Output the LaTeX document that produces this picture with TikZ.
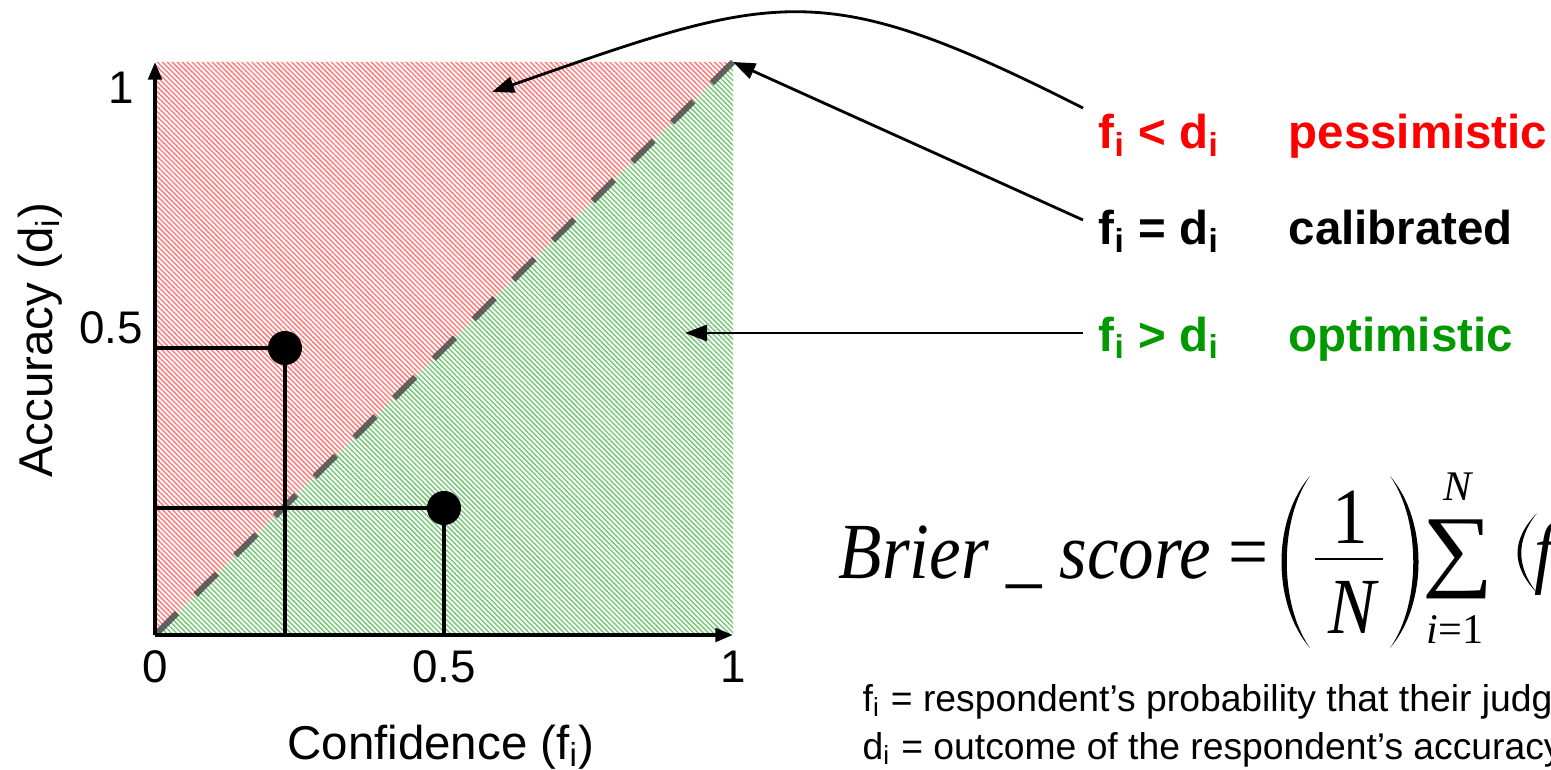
\documentclass[tikz,border=0pt]{standalone}
\usepackage{fontspec}
\setmainfont{Liberation Sans}
\newfontfamily\tnr{Liberation Serif}
\usetikzlibrary{arrows.meta,patterns.meta}
\definecolor{hatchred}{RGB}{255,125,125}
\definecolor{hatchgreen}{RGB}{120,200,120}
\definecolor{pessred}{RGB}{255,0,0}
\definecolor{optgreen}{RGB}{0,153,0}
\definecolor{diaggray}{RGB}{75,75,75}
\newcommand\sbi{\textsubscript{i}}
\begin{document}
\begin{tikzpicture}[x=0.01cm,y=-0.01cm,
  axis/.style={line width=1.1pt,-{Triangle[length=5pt,width=3.8pt]}},
  guide/.style={line width=0.95pt},
  dot/.style={circle,fill=black,inner sep=0,minimum size=0.34cm},
  callout/.style={line width=0.8pt,-{Triangle[length=6.3pt,width=4.6pt]}},
  tick/.style={font=\fontsize{13}{15}\selectfont,inner sep=0},
  axlabel/.style={font=\fontsize{13.5}{16}\selectfont,inner sep=0},
  state/.style={font=\bfseries\fontsize{13.5}{16}\selectfont,anchor=base west,inner sep=0},
  note/.style={font=\fontsize{10.6}{12}\selectfont,anchor=base west,inner sep=0},
  eq/.style={font=\tnr\fontsize{20.2}{24}\selectfont,inner sep=0},
  eqsmall/.style={font=\tnr\fontsize{12}{14}\selectfont,inner sep=0},
  diag/.style={line width=1.7pt,draw=diaggray,draw opacity=0.85,dash pattern=on 8.5pt off 7.4pt},
  region/.style={pattern={Lines[angle=-45,distance=1pt,line width=0.42pt]}},
]
\useasboundingbox (0,0) rectangle (1551,770);
\clip (0,0) rectangle (1551,770);
% plot corners
\coordinate (O) at (155,635);
\coordinate (X) at (733,635);
\coordinate (Y) at (155,62);
\coordinate (TR) at (733,62);
% hatched regions
\fill[region,pattern color=hatchred] (O) -- (Y) -- (TR) -- cycle;
\fill[region,pattern color=hatchgreen] (O) -- (X) -- (TR) -- cycle;
% diagonal
\draw[diag] (TR) -- (O);
% data points
\node[dot] (p1) at (285,348) {};
\node[dot] (p2) at (444,508) {};
\coordinate (p1y) at (155,348);
\coordinate (p1x) at (285,635);
\coordinate (p2y) at (155,508);
\coordinate (p2x) at (444,635);
\draw[guide] (p1y) -- (p1.center) -- (p1x);
\draw[guide] (p2y) -- (p2.center) -- (p2x);
% axes
\draw[axis] (O) -- (Y);
\draw[axis] (O) -- (X);
% tick labels
\node[tick] (ty1) at (121,88) {1};
\node[tick] (ty05) at (111,328) {0.5};
\node[tick] (tx0) at (155,667) {0};
\node[tick] (tx05) at (444,667) {0.5};
\node[tick] (tx1) at (733,667) {1};
% axis labels
\node[axlabel,rotate=90,anchor=base] (ylab) at (52,340) {Accuracy (d\sbi)};
\node[axlabel,anchor=base] (xlab) at (441,759) {Confidence (f\sbi)};
% state labels
\node[state,text=pessred] (pessF) at (1098,149) {f\sbi{} < d\sbi};
\node[state,text=pessred] (pessW) at (1288,149) {pessimistic};
\node[state] (calF) at (1098,245) {f\sbi{} = d\sbi};
\node[state] (calW) at (1288,245) {calibrated};
\node[state,text=optgreen] (optF) at (1098,351) {f\sbi{} > d\sbi};
\node[state,text=optgreen] (optW) at (1288,351) {optimistic};
% callouts
\coordinate (cP) at (1083,108);
\coordinate (cC) at (1083,220);
\coordinate (cO) at (1083,333);
\coordinate (tP) at (492,92);
\coordinate (tO) at (685,333);
\draw[callout] (cP) .. controls (820,-25) and (778,-8) .. (tP);
\draw[callout] (cC) -- (TR);
\draw[callout] (cO) -- (tO);
% formula
\node[eq,anchor=base west] (brier) at (838,578) {\scalebox{1}[1.12]{\itshape Brier \_ score}};
\node[eq,anchor=base west] (eqsign) at (1228,578) {\scalebox{1}[1.12]{=}};
\fill (1310,476) .. controls (1272,520) and (1272,604) .. (1310,648)
      .. controls (1279,604) and (1279,520) .. (1310,476) -- cycle;
\fill (1390,476) .. controls (1428,520) and (1428,604) .. (1390,648)
      .. controls (1421,604) and (1421,520) .. (1390,476) -- cycle;
\node[eq,anchor=base] (one) at (1350,543) {\scalebox{1}[1.12]{1}};
\coordinate (barL) at (1315,559);
\coordinate (barR) at (1383,559);
\draw[line width=0.85pt] (barL) -- (barR);
\node[eq,anchor=base] (den) at (1352,633) {\scalebox{1}[1.12]{\itshape N}};
\node[inner sep=0,anchor=north west] (sig) at (1422,519) {\resizebox*{0.71cm}{0.79cm}{\tnr ∑}};
\node[eqsmall,anchor=base] (supN) at (1458,500) {\itshape N};
\node[eqsmall,anchor=base] (subi) at (1455,643) {{\itshape i}=1};
\fill (1537,513) .. controls (1511,540) and (1511,566) .. (1537,593)
      .. controls (1516,566) and (1516,540) .. (1537,513) -- cycle;
\node[eq,anchor=base west] (fvar) at (1534,578) {\scalebox{1}[1.12]{\itshape f}};
% notes
\node[note] (n1) at (862,711) {f\sbi{} = respondent’s probability that their judg};
\node[note] (n2) at (862,759) {d\sbi{} = outcome of the respondent’s accuracy};
\end{tikzpicture}
\end{document}
